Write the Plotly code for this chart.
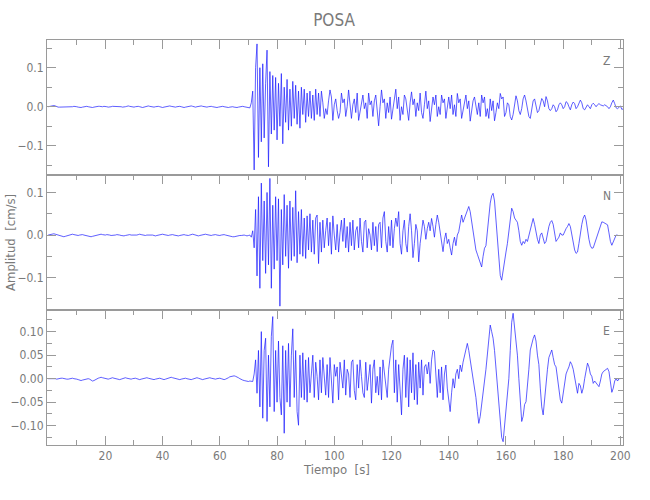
import numpy as np
import plotly.graph_objects as go
from plotly.subplots import make_subplots

# Sampling interval (s) of the hand-read traces
DT = 0.5

# Amplitudes in 1e-3 cm/s, one sample every 0.5 s from t = 0
z_milli = [
    # 0-70 s (quiet)
    0,1,2,3,3,2,0,-1,-1,-1,-1,-1,-1,0,0,-1,-1,0,1,1,
    0,-1,-2,-2,-1,0,1,1,0,-1,-2,-2,-1,0,1,1,1,0,0,1,
    1,0,-1,-1,0,1,1,0,0,1,1,0,-1,-1,0,1,2,1,0,-1,
    -1,0,1,1,0,-1,-2,-1,0,1,2,1,0,-1,-1,0,1,1,0,-1,
    -2,-1,0,1,2,2,1,0,-1,-1,0,1,1,0,-1,-2,-1,0,1,2,
    2,1,0,-1,0,1,2,2,1,0,-1,-1,0,1,1,0,-1,-2,-2,-1,
    0,1,1,0,-1,-2,-2,-1,0,0,-1,-2,-2,-1,0,1,1,0,-1,-1,
    -2,-3,
    # 71 s onward
    10,40,-162,100,161,-130,100,-90,110,-80,
    60,145,-154,90,-70,80,-60,75,-85,60,
    -50,85,-95,50,-40,70,-60,45,-50,65,
    -30,55,-45,40,-55,50,-20,45,-40,35,
    -25,40,-30,30,-35,45,-20,35,-25,40,
    10,-30,-5,-20,15,43,25,-35,5,20,
    -10,-30,-15,35,10,20,-25,0,43,10,
    -30,5,20,-15,35,-35,-10,15,30,-5,
    10,-30,35,5,15,-25,15,30,-10,-49,
    0,43,10,20,-30,10,-15,25,-32,-10,
    20,45,-5,25,-35,0,-20,30,20,-15,
    -35,10,38,5,20,-25,10,-10,35,-15,
    -30,5,40,-5,15,-38,-10,25,5,30,
    -25,0,-20,30,10,20,-30,0,25,-5,
    30,-20,5,-25,34,10,20,-30,-10,20,
    30,-5,15,-37,-15,15,25,0,-20,10,
    -25,30,10,25,-25,-5,-30,20,-10,15,
    -36,-15,10,-5,34,20,25,-25,-15,10,
    5,-25,-34,-20,10,28,15,-10,-20,-5,
    20,30,15,-10,-25,-30,-10,15,20,5,
    -15,-10,10,21,15,0,26,15,-5,-10,
    -5,5,0,-13,-8,5,10,5,-5,0,
    13,10,0,-8,5,12,8,-5,0,10,
    17,10,-5,-8,0,5,0,-5,5,9,
    5,0,5,8,5,3,2,5,3,0,
    -5,0,10,17,8,-3,-5,0,2,-7,
    -5,
]

n_milli = [
    0,1,2,3,3,2,1,0,-1,-2,-3,-4,-3,-2,0,1,2,2,1,0,
    -1,-1,0,1,1,0,-1,-2,-3,-4,-4,-3,-2,-1,0,1,2,2,1,0,
    0,1,1,0,-1,-1,0,0,1,1,0,-1,-2,-2,-1,0,1,1,0,0,
    -1,-1,0,1,2,1,0,-1,-1,0,0,1,1,0,-1,-2,-1,0,1,2,
    2,1,0,-1,-1,0,1,1,0,-1,-2,-2,-1,0,1,1,0,-1,-1,0,
    1,2,1,0,-1,-2,-1,0,1,2,2,1,0,-1,-1,0,1,1,0,-1,
    -1,0,1,1,0,-1,-2,-3,-4,-4,-4,-3,-2,-2,-1,-1,0,0,-1,-2,
    -1,0,
    -5,10,-30,60,-96,90,-125,122,-60,80,
    -90,100,-70,133,-125,70,-80,90,-60,85,
    -167,60,-70,95,-50,70,-78,80,-60,65,
    -50,104,-65,55,-45,60,-50,40,-55,45,
    -35,50,-40,35,-45,40,47,-67,30,-40,
    35,-30,10,40,-25,30,-45,45,0,-35,
    25,-40,5,35,-15,40,-30,20,-40,30,
    -25,35,-35,10,20,-30,40,-15,-40,30,
    35,-30,15,0,-35,30,-25,20,-39,25,
    30,-30,40,55,-15,-40,20,-25,35,-30,
    15,40,20,55,-20,-45,10,35,-20,-40,
    20,50,10,-53,-20,25,10,-63,-20,15,
    35,20,-10,15,30,10,39,20,-5,25,
    47,30,10,-15,-39,-10,5,-20,-10,-30,
    -47,-20,-5,-25,0,8,25,47,30,40,
    50,60,67,55,30,5,-20,-35,-45,-55,
    -70,-75,-50,-31,-25,10,45,75,92,98,
    80,40,-10,-60,-95,-106,-80,-55,-40,-20,
    10,35,63,55,40,35,30,10,-15,-24,
    -15,-20,-10,-15,0,15,30,39,25,5,
    -10,-20,0,5,-10,-20,-15,5,20,30,
    34,25,0,-15,-10,-5,5,0,0,10,
    15,20,27,20,0,-20,-35,-43,-40,-20,
    5,25,40,47,35,10,-10,-25,-31,-30,
    -20,-10,5,15,25,31,30,28,25,24,
    5,-15,-24,-15,-10,0,0,
]

e_milli = [
    0,0,1,1,0,0,-1,0,0,1,1,0,0,-1,-1,0,0,1,0,0,
    -1,-2,-3,-4,-3,-2,-1,0,0,-1,-3,-5,-4,-2,0,1,2,3,2,1,
    0,-1,-1,0,1,2,1,0,-1,-2,-2,-1,0,1,2,1,0,-1,-1,0,
    1,1,0,-1,-2,-1,0,1,2,2,1,0,-1,-2,-2,-1,0,1,1,0,
    -1,-2,-1,0,1,2,3,2,1,0,-1,-2,-2,-1,0,1,1,0,-1,-2,
    -2,-1,0,1,2,1,0,-1,-2,-1,0,1,2,2,1,0,-1,-1,0,1,
    1,0,-1,-2,-1,0,2,4,5,6,6,5,4,2,0,-2,-3,-4,-5,-6,
    -6,-5,
    -5,-6,10,40,-31,60,-60,100,-84,60,
    86,-91,50,-60,90,132,-70,60,-50,80,
    -40,-77,70,-116,60,-50,75,-60,50,106,
    -40,60,-70,-99,50,-40,55,-45,40,-50,
    45,-30,10,50,-40,35,5,-45,40,-30,
    45,10,-35,30,-40,45,-20,-52,30,5,
    25,-45,35,0,-20,40,-35,20,10,-40,
    35,40,-25,-45,30,-20,40,5,-30,-40,
    35,-25,10,30,-52,20,40,-30,5,-35,
    25,-45,40,10,-20,-40,20,50,70,82,
    -30,40,-50,30,-40,-77,20,50,-40,45,
    -60,40,-30,55,-45,30,-55,35,-20,40,
    -35,25,30,10,35,-10,40,61,58,10,
    -40,20,-30,25,-45,10,29,-20,-40,-70,
    -30,0,-20,10,20,0,29,15,35,50,
    65,75,60,40,20,0,-15,-40,-70,-95,
    -80,-50,-20,-5,20,50,85,114,100,86,
    60,20,-15,-60,-100,-125,-134,-100,-60,-40,
    0,60,120,139,110,70,50,0,-50,-91,
    -80,-55,-49,-20,20,61,75,85,93,80,
    50,30,-20,-60,-77,-40,-10,20,45,55,
    61,45,30,25,0,-25,-45,-52,-30,-5,
    10,18,25,36,30,20,0,-20,-31,-10,
    -15,-31,-20,0,15,33,25,10,5,-10,
    -5,-10,-15,-17,-5,10,15,18,20,22,
    15,-10,-29,-20,-5,0,-5,0,0,
]

components = ["Z", "N", "E"]
traces_milli = [z_milli, n_milli, e_milli]

x_major = [20, 40, 60, 80, 100, 120, 140, 160, 180, 200]
x_minor = [10, 30, 50, 70, 90, 110, 130, 150, 170, 190]

y_major = [[-0.1, 0.0, 0.1], [-0.1, 0.0, 0.1], [-0.10, -0.05, 0.00, 0.05, 0.10]]
y_labels = [["\u22120.1", "0.0", "0.1"], ["\u22120.1", "0.0", "0.1"],
            ["\u22120.10", "\u22120.05", "0.00", "0.05", "0.10"]]
y_minor = [[-0.15, -0.05, 0.05, 0.15], [-0.15, -0.05, 0.05],
           [-0.125, -0.075, -0.025, 0.025, 0.075, 0.125]]
y_ranges = [[-0.175, 0.171], [-0.176, 0.141], [-0.141, 0.146]]

AX = "#9a9a9a"
TXT = "#7a7a7a"
FONT = "Liberation Sans Narrow, DejaVu Sans Condensed, Arial Narrow, sans-serif"

# desired plot area in page pixels (body margin removed in the page)
PL, PR, PT, PB = 47, 623, 40, 445
PW, PH = PR - PL, PB - PT

fig = make_subplots(rows=3, cols=1, shared_xaxes=True, vertical_spacing=0)

for i, vals in enumerate(traces_milli):
    v = np.array(vals, dtype=float) / 1000.0
    t = np.arange(len(v)) * DT
    fig.add_trace(go.Scatter(x=t, y=v, mode="lines",
                             line=dict(color="#1a1aff", width=0.7),
                             showlegend=False, hoverinfo="skip"),
                  row=i + 1, col=1)

for i in range(3):
    r = i + 1
    bottom = (r == 3)
    fig.update_xaxes(row=r, col=1, automargin=False,
                     range=[-0.4, 200.9], showgrid=False, zeroline=False,
                     showline=True, linecolor=AX, linewidth=1,
                     mirror="ticks" if bottom else True,
                     side="bottom" if bottom else "top",
                     ticks="inside", ticklen=9, tickcolor=AX, tickwidth=1,
                     tickmode="array", tickvals=x_major,
                     ticktext=[str(v) for v in x_major],
                     showticklabels=bottom,
                     tickfont=dict(family=FONT, size=12, color=TXT),
                     minor=dict(tickmode="array", tickvals=x_minor,
                                ticks="inside", ticklen=5, tickcolor=AX))
    fig.update_yaxes(row=r, col=1, automargin=False,
                     range=y_ranges[i], showgrid=False, zeroline=False,
                     showline=True, linecolor=AX, linewidth=1, mirror="ticks",
                     ticks="inside", ticklen=9, tickcolor=AX, tickwidth=1,
                     tickmode="array", tickvals=y_major[i], ticktext=y_labels[i],
                     tickfont=dict(family=FONT, size=12, color=TXT),
                     minor=dict(tickmode="array", tickvals=y_minor[i],
                                ticks="inside", ticklen=5, tickcolor=AX))


def px(xp):
    return (xp - PL) / PW


def py(yp):
    return 1 - (yp - PT) / PH


label_y = [61, 196, 331]
for name, yp in zip(components, label_y):
    fig.add_annotation(x=px(606.5), y=py(yp), xref="paper", yref="paper",
                       text=name, showarrow=False,
                       font=dict(family=FONT, size=12, color=TXT),
                       xanchor="center", yanchor="middle")

fig.add_annotation(x=px(336), y=py(469), xref="paper", yref="paper",
                   text="Tiempo  [s]", showarrow=False,
                   font=dict(family=FONT, size=13, color=TXT),
                   xanchor="center", yanchor="middle")
fig.add_annotation(x=px(10), y=py(243), xref="paper", yref="paper",
                   text="Amplitud  [cm/s]", showarrow=False, textangle=-90,
                   font=dict(family=FONT, size=13, color=TXT),
                   xanchor="center", yanchor="middle")

W, H = 650, 500
fig.update_layout(
    width=W, height=H,
    margin=dict(l=PL, r=W - PR, t=PT, b=H - PB, autoexpand=False),
    paper_bgcolor="white", plot_bgcolor="white",
    title=dict(text="POSA", x=334 / W, xanchor="center",
               y=1 - 20 / H, yanchor="middle",
               font=dict(family=FONT, size=17, color=TXT)),
)

fig.write_html("out.html", config={"displayModeBar": False},
               post_script="document.body.style.margin='0px';")
